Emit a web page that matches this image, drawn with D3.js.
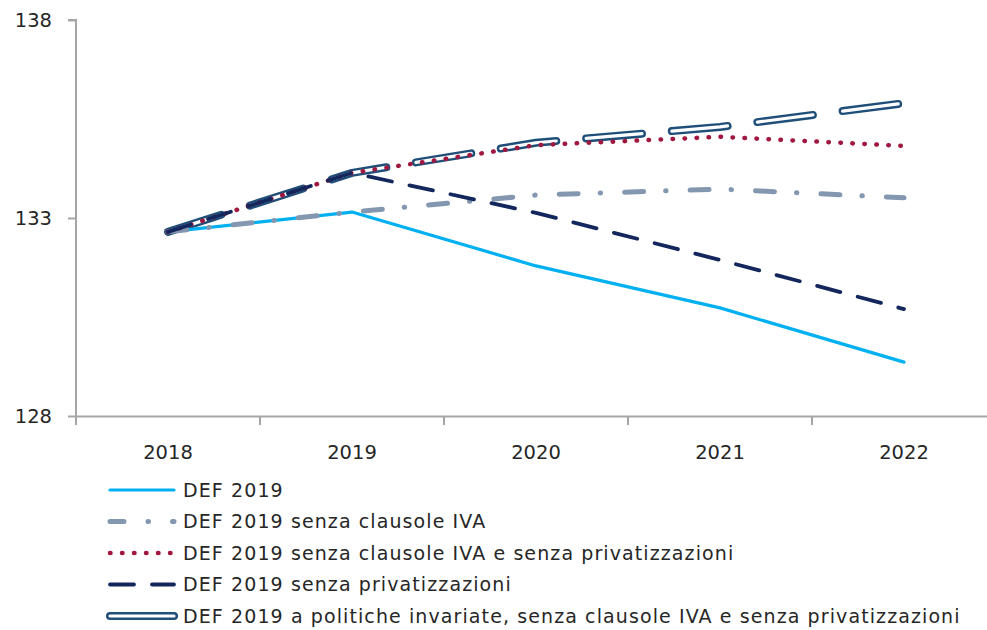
<!DOCTYPE html>
<html>
<head>
<meta charset="utf-8">
<script src="https://cdn.jsdelivr.net/npm/d3@7"></script>
<style>
  body { margin: 0; background: #fff; }
  svg text { font-family: "DejaVu Sans", Verdana, sans-serif; fill: #262626; }
</style>
</head>
<body>
<svg width="987" height="630"></svg>
<script>
// values
const years = ["2018", "2019", "2020", "2021", "2022"];
const yTicks = [128, 133, 138];

const def2019 = [132.65, 133.15, 131.79, 130.73, 129.36];
const senzaIva = [132.65, 133.15, 133.58, 133.73, 133.51];
const senzaIvaPriv = [132.65, 134.14, 134.84, 135.05, 134.82];
const senzaPriv = [132.65, 134.14, 133.13, 131.94, 130.70];
const politicheInv = [132.65, 134.14, 134.9, 135.3, 135.9];

const seriesNames = [
  "DEF 2019",
  "DEF 2019 senza clausole IVA",
  "DEF 2019 senza clausole IVA e senza privatizzazioni",
  "DEF 2019 senza privatizzazioni",
  "DEF 2019 a politiche invariate, senza clausole IVA e senza privatizzazioni"
];

const svg = d3.select("svg");
const margin = { left: 76, top: 20, bottom: 416, right: 996 };

const x = d3.scaleBand().domain(years).range([margin.left, margin.right]);
const y = d3.scaleLinear().domain([128, 138]).range([margin.bottom, margin.top]);

const axisColor = "#a6a6a6";

// y axis
const yAxis = svg.append("g")
  .attr("transform", `translate(${margin.left},0)`)
  .call(d3.axisLeft(y).tickValues(yTicks).tickSize(8).tickPadding(16));
yAxis.select(".domain").attr("stroke", axisColor).attr("stroke-width", 2)
  .attr("d", `M-8,${margin.top}H0V${margin.bottom + 9}`);
yAxis.selectAll(".tick line").attr("stroke", axisColor).attr("stroke-width", 2);
yAxis.selectAll(".tick text").style("font-size", "19.5px").attr("fill", "#262626");

// x axis
const xAxis = svg.append("g")
  .attr("transform", `translate(0,${margin.bottom})`)
  .call(d3.axisBottom(x).tickSize(0).tickPadding(29));
xAxis.select(".domain").attr("stroke", axisColor).attr("stroke-width", 2);
xAxis.selectAll(".tick text").style("font-size", "19.5px").attr("fill", "#262626");
xAxis.selectAll("line.sep")
  .data(years.slice(1))
  .enter().append("line")
  .attr("class", "sep")
  .attr("x1", d => x(d)).attr("x2", d => x(d))
  .attr("y1", 0).attr("y2", 9)
  .attr("stroke", axisColor).attr("stroke-width", 2);

const line = d3.line()
  .x((d, i) => x(years[i]) + x.bandwidth() / 2)
  .y(d => y(d));

// styles per series (legend order)
const styles = [
  [{ stroke: "#00b0f0", width: 3.2, dash: null }],
  [{ stroke: "#8497b0", width: 5, dash: "19,22,0.5,24" }],
  [{ stroke: "#a0173f", width: 4.5, dash: "0.5,11.5" }],
  [{ stroke: "#13275c", width: 3.8, dash: "24,18" }],
  [{ stroke: "#1f4e79", width: 8, dash: "56,30" }, { stroke: "#ffffff", width: 3.2, dash: "56,30" }]
];
const allSeries = [def2019, senzaIva, senzaIvaPriv, senzaPriv, politicheInv];

function drawPath(g, d, st) {
  g.append("path")
    .attr("d", d)
    .attr("fill", "none")
    .attr("stroke", st.stroke)
    .attr("stroke-width", st.width)
    .attr("stroke-linecap", "round")
    .attr("stroke-linejoin", "round")
    .attr("stroke-dasharray", st.dash);
}

// draw order: double line at the back, then the others
const plot = svg.append("g");
const order = [4, 0, 1, 2, 3];
order.forEach(i => {
  styles[i].forEach(st => drawPath(plot, line(allSeries[i]), st));
});

// legend
const legend = svg.append("g");
const rowY = d3.scalePoint().domain(d3.range(5)).range([490, 616]);
seriesNames.forEach((name, i) => {
  const yy = rowY(i);
  const sample = d3.line()([[110, yy], [174, yy]]);
  const g = legend.append("g");
  styles[i].forEach(st => {
    let s = Object.assign({}, st);
    if (i === 1) s.dash = "14,24,0.5,24";
    if (i === 4) s.dash = null;
    drawPath(g, sample, s);
  });
  legend.append("text")
    .attr("x", 183)
    .attr("y", yy)
    .attr("dy", "0.35em")
    .style("font-size", "19px")
    .style("letter-spacing", "1.1px")
    .text(name);
});
</script>
</body>
</html>
